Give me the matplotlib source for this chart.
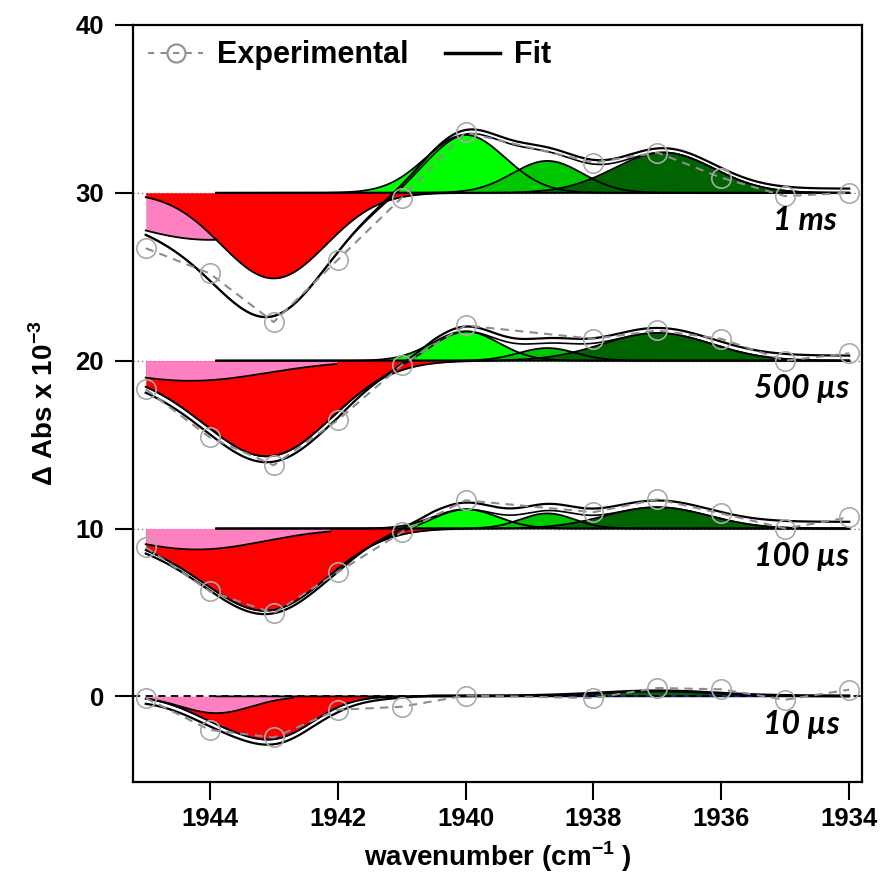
import numpy as np
import matplotlib
matplotlib.use("Agg")
import matplotlib.pyplot as plt
from matplotlib.lines import Line2D

plt.rcParams["font.family"] = ["Liberation Sans", "DejaVu Sans"]
plt.rcParams["mathtext.fontset"] = "custom"
plt.rcParams["mathtext.rm"] = "Liberation Sans"
plt.rcParams["mathtext.bf"] = "Liberation Sans:bold"

# ---- data -------------------------------------------------------------
wavenumber = np.array([1945, 1944, 1943, 1942, 1941, 1940, 1938, 1937, 1936, 1935, 1934])
delays = ["1 ms", "500 µs", "100 µs", "10 µs"]
offsets = [30, 20, 10, 0]

exp_1ms = [-3.3, -4.8, -7.7, -4.0, -0.3, 3.6, 1.8, 2.4, 0.9, -0.2, 0.0]
exp_500us = [-1.7, -4.57, -6.23, -3.55, -0.27, 2.1, 1.3, 1.8, 1.3, 0.0, 0.44]
exp_100us = [-1.12, -3.74, -5.05, -2.61, -0.23, 1.68, 0.97, 1.74, 0.9, 0.0, 0.67]
exp_10us = [-0.1, -2.0, -2.45, -0.8, -0.62, 0.05, -0.1, 0.5, 0.42, -0.2, 0.4]
experimental = [exp_1ms, exp_500us, exp_100us, exp_10us]

# Gaussian bands of the fit: (centre cm-1, amplitude, width)
pink_bands = [(1944.0, -2.8, 1.5), (1944.3, -1.2, 1.2), (1944.2, -1.25, 1.05), (1943.9, -1.0, 0.55)]
pink_end = [1943.875, 1942.0, 1942.1, 1942.7]
red_bands = [(1943.0, -5.1, 0.82), (1943.0, -5.0, 0.95), (1943.0, -4.2, 0.9), (1942.95, -2.3, 0.6)]
green_a = [(1940.0, 3.45, 0.62), (1940.0, 1.75, 0.52), (1940.0, 1.15, 0.5), (1940.0, 0.0, 0.5)]
green_b = [(1938.72, 1.9, 0.55), (1938.72, 0.75, 0.45), (1938.72, 0.9, 0.42), (1938.7, 0.0, 0.45)]
green_c = [(1936.9, 2.4, 0.78), (1937.0, 1.65, 0.85), (1937.0, 1.27, 0.8), (1937.0, 0.3, 0.9)]
pink_behind = [True, False, False, False]
# fit baseline levels on the high- and low-wavenumber side
base_high = [0.0, -0.35, -0.2, -0.3]
base_low = [0.25, 0.3, 0.4, 0.05]

# ---- styles ------------------------------------------------------------
PINK, RED = "#FF80C0", "#FF0000"
GREENS = ["#00FF00", "#00C800", "#006400"]
EXP_GREY = "#8c8c8c"
red_edge = ["black", "black", "black", "#1a1aa0"]
label_x = [1934.2, 1934.0, 1934.0, 1934.15]

x = np.linspace(1945, 1934, 800)


def band(p):
    c, a, s = p
    return a * np.exp(-(x - c) ** 2 / (2 * s ** 2))


fig = plt.figure(figsize=(8.83, 8.82), dpi=100)
ax = fig.add_axes([0.1506, 0.1134, 0.8256, 0.8583])

for i, off in enumerate(offsets):
    pink = band(pink_bands[i])
    red = band(red_bands[i])
    greens = [band(green_a[i]), band(green_b[i]), band(green_c[i])]
    total = pink + red + sum(greens)
    baseline = np.interp(x, [1940.5, 1942.0], [base_low[i], base_high[i]])
    fit = total + baseline
    pmask = x >= pink_end[i]

    # baseline guide
    if off == 0:
        ax.plot([1945.2, 1933.8], [0, 0], color="black", lw=1.3, ls=(0, (4, 3)), zorder=3.5)
    else:
        ax.plot([1945.2, 1933.8], [off, off], color="#808080", lw=1.0, ls=(0, (1, 2)), zorder=1.5)

    if pink_behind[i]:
        ax.fill_between(x[pmask], off, off + pink[pmask], color=PINK, lw=0, zorder=2)
        ax.plot(x[pmask], off + pink[pmask], color="black", lw=1.3, zorder=3)
        ax.fill_between(x, off, off + red, color=RED, lw=0, zorder=2.1)
        ax.plot(x, off + red, color=red_edge[i], lw=1.3, zorder=3)
    else:
        ax.fill_between(x, off, off + pink + red, color=RED, lw=0, zorder=2)
        ax.plot(x, off + pink + red, color=red_edge[i], lw=1.3, zorder=3)
        ax.fill_between(x[pmask], off, off + pink[pmask], color=PINK, lw=0, zorder=2.1)
        ax.plot(x[pmask], off + pink[pmask], color="black", lw=1.3, zorder=3)

    gmask = x <= 1943.9
    for k, (g, col) in enumerate(zip(greens, GREENS)):
        if np.max(np.abs(g)) == 0:
            continue
        ax.fill_between(x[gmask], off, off + g[gmask], color=col, lw=0, zorder=2.2 + 0.1 * k)
        ax.plot(x[gmask], off + g[gmask], color="black", lw=1.3, zorder=3)

    ax.plot(x, off + total, color="black", lw=1.2, zorder=3.6)
    ax.plot(x, off + fit, color="black", lw=1.6, zorder=3.7)

    ax.plot(wavenumber, off + np.array(experimental[i]), color=EXP_GREY, lw=1.5,
            ls=(0, (4, 3)), marker="o", ms=14, mfc="none", mec="#aaaaaa", mew=1.2,
            zorder=5)

    ax.text(label_x[i], off - 1.65, delays[i], ha="right", va="center",
            fontsize=23, fontweight="bold", fontstyle="italic", family=["Lato", "DejaVu Sans"],
            zorder=6)

ax.set_xlim(1945.2, 1933.8)
ax.set_ylim(-5.1, 40)
ax.set_xticks([1944, 1942, 1940, 1938, 1936, 1934])
ax.set_yticks([0, 10, 20, 30, 40])

for s in ax.spines.values():
    s.set_linewidth(1.6)
ax.tick_params(direction="out", length=13, width=1.5, labelsize=18.5)
ax.tick_params(axis="x", pad=5)
ax.tick_params(axis="y", pad=8)
for lab in ax.get_xticklabels() + ax.get_yticklabels():
    lab.set_fontweight("bold")

ax.set_xlabel("wavenumber (cm$^{\\mathbf{-1}}$ )", fontsize=20, fontweight="bold", labelpad=6)
ax.set_ylabel("\u0394 Abs x 10$^{\\mathbf{-3}}$", fontsize=20, fontweight="bold", labelpad=12)

exp_handle = Line2D([], [], color=EXP_GREY, ls=(0, (3, 3)), lw=1.5, marker="o", ms=13,
                    mfc="none", mec="#909090", mew=1.5)
fit_handle = Line2D([], [], color="black", lw=2.5)
ax.legend([exp_handle, fit_handle], ["Experimental", "Fit"], loc="upper left", ncol=2,
          frameon=False, prop=dict(family="Liberation Sans", weight="bold", size=22),
          handlelength=1.8, columnspacing=1.2, handletextpad=0.45, borderaxespad=0.1)

fig.savefig("out.png", dpi=100)
